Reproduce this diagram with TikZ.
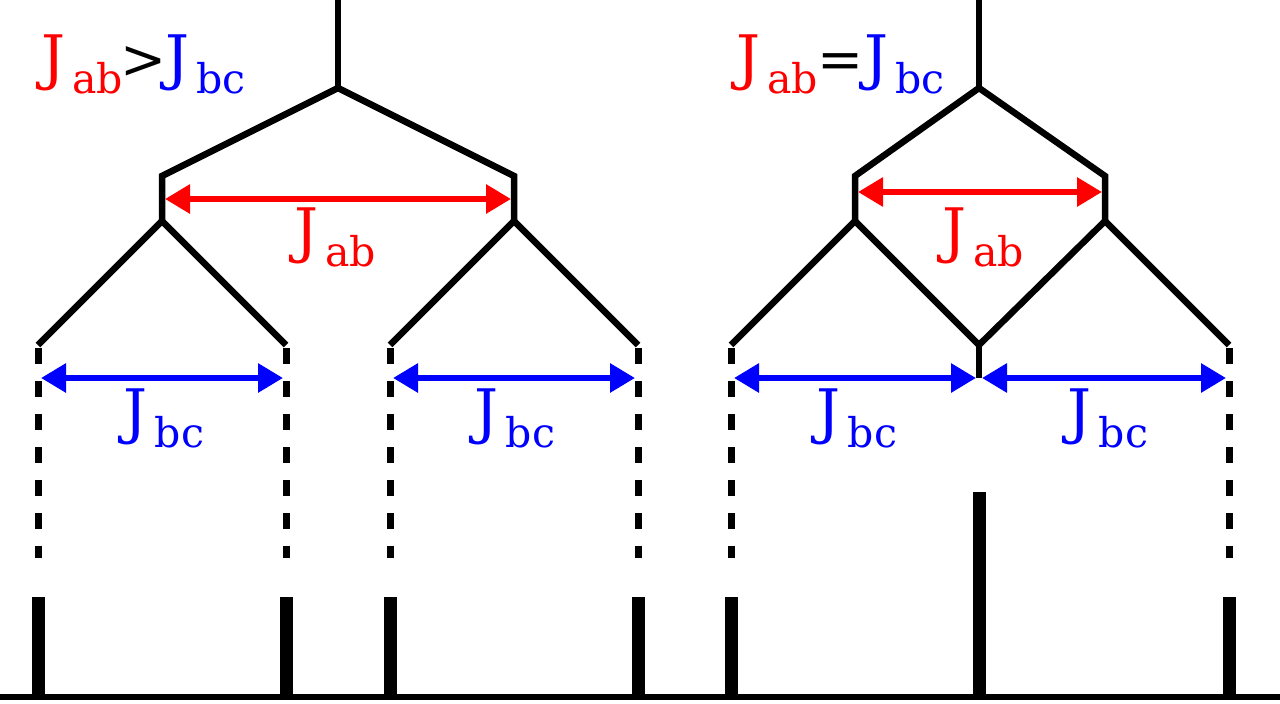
\documentclass[tikz,border=0pt]{standalone}
\usepackage{fontspec}
\setmainfont{DejaVu Serif}
\usetikzlibrary{arrows.meta}
\definecolor{jred}{RGB}{255,0,0}
\definecolor{jblue}{RGB}{0,0,255}
\newcommand\JJ[1]{{\fontsize{60}{60}\selectfont J}\kern7pt\raisebox{-15pt}{\fontsize{41}{41}\selectfont #1}}
\tikzset{
  tree/.style={line width=6.5pt, line join=miter, line cap=butt},
  dashline/.style={line width=7pt, dash pattern=on 16pt off 17pt},
  peak/.style={line width=13pt},
  axis/.style={line width=6pt},
  span/.style={line width=6pt, {Triangle[length=25pt,width=28pt]}-{Triangle[length=25pt,width=28pt]}},
  lab/.style={inner sep=0pt, anchor=base},
}
\begin{document}
\begin{tikzpicture}[x=1pt,y=-1pt]
\fill[white] (0,0) rectangle (1280,704);
\useasboundingbox (0,0) rectangle (1280,704);
% ---------- left tree ----------
\coordinate (LT) at (338,0);
\coordinate (LR) at (338,88);
\coordinate (LA1) at (162,176);
\coordinate (LA2) at (514,176);
\coordinate (LB1) at (162,221);
\coordinate (LB2) at (514,221);
\coordinate (LC1) at (38,345);
\coordinate (LC2) at (286,345);
\coordinate (LC3) at (390,345);
\coordinate (LC4) at (638,345);
\draw[tree] (LT) -- (LR);
\draw[tree] (LB1) -- (LA1) -- (LR) -- (LA2) -- (LB2);
\draw[tree] (LC1) -- (LB1) -- (LC2);
\draw[tree] (LC3) -- (LB2) -- (LC4);
% ---------- right tree ----------
\coordinate (RT) at (979,0);
\coordinate (RR) at (979,88);
\coordinate (RA1) at (855,176);
\coordinate (RA2) at (1105,176);
\coordinate (RB1) at (855,221);
\coordinate (RB2) at (1105,221);
\coordinate (RC1) at (731,345);
\coordinate (RC2) at (979,345);
\coordinate (RC3) at (1229,345);
\coordinate (RM) at (979,378);
\draw[tree] (RT) -- (RR);
\draw[tree] (RB1) -- (RA1) -- (RR) -- (RA2) -- (RB2);
\draw[tree] (RC1) -- (RB1) -- (RC2) -- (RB2) -- (RC3);
\draw[tree] (RC2) -- (RM);
% ---------- dashed drops ----------
\foreach \x/\n in {38/a,286/b,390/c,638/d,731/e,1229/f}{
  \coordinate (D\n1) at (\x,348);
  \coordinate (D\n2) at (\x,558);
  \draw[dashline] (D\n1) -- (D\n2);
  \coordinate (P\n1) at (\x,597);
  \coordinate (P\n2) at (\x,696);
  \draw[peak] (P\n1) -- (P\n2);
}
\coordinate (Pg1) at (979,492);
\coordinate (Pg2) at (979,696);
\draw[peak] (Pg1) -- (Pg2);
% ---------- baseline ----------
\coordinate (X0) at (0,697);
\coordinate (X1) at (1280,697);
\draw[axis] (X0) -- (X1);
% ---------- coupling arrows ----------
\coordinate (a1) at (165,199); \coordinate (a2) at (511,199);
\draw[span, jred] (a1) -- (a2);
\coordinate (b1) at (858,192); \coordinate (b2) at (1102,192);
\draw[span, jred] (b1) -- (b2);
\coordinate (c1) at (41,378); \coordinate (c2) at (283,378);
\coordinate (c3) at (393,378); \coordinate (c4) at (635,378);
\coordinate (c5) at (734,378); \coordinate (c6) at (976,378);
\coordinate (c7) at (982,378); \coordinate (c8) at (1226,378);
\draw[span, jblue] (c1) -- (c2);
\draw[span, jblue] (c3) -- (c4);
\draw[span, jblue] (c5) -- (c6);
\draw[span, jblue] (c7) -- (c8);
% ---------- labels ----------
\node[lab, text=jred] (lab1) at (335,251) {\JJ{ab}};
\node[lab, text=jred] (lab2) at (983,251) {\JJ{ab}};
\node[lab, text=jblue] (lbc1) at (164,432) {\JJ{bc}};
\node[lab, text=jblue] (lbc2) at (515,432) {\JJ{bc}};
\node[lab, text=jblue] (lbc3) at (857,432) {\JJ{bc}};
\node[lab, text=jblue] (lbc4) at (1108,432) {\JJ{bc}};
\node[inner sep=0pt, anchor=base west] (top1) at (41,78) {\textcolor{jred}{\JJ{ab}}\kern-2pt{\fontsize{55}{55}\selectfont >}\kern-2pt\textcolor{jblue}{\JJ{bc}}};
\node[inner sep=0pt, anchor=base west] (top2) at (736,78) {\textcolor{jred}{\JJ{ab}}{\fontsize{55}{55}\selectfont =}\textcolor{jblue}{\JJ{bc}}};
\end{tikzpicture}
\end{document}
